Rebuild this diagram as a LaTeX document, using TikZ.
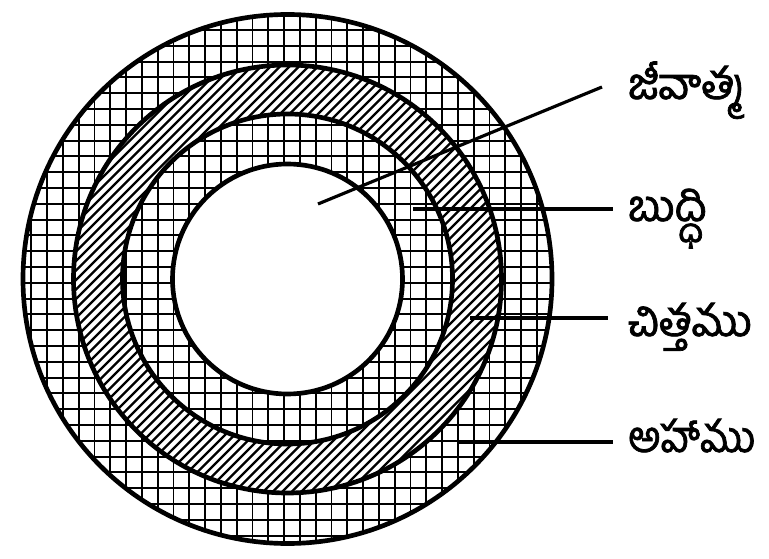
\documentclass[tikz,border=0pt]{standalone}
\usepackage{graphicx}
\usepackage{fontspec}
\newfontfamily\telugu[Script=Telugu,FakeBold=1.6]{Hind Guntur}
\tikzset{
  rim/.style={line width=0.14cm},
  gridline/.style={line width=0.055cm},
  hatchline/.style={line width=0.065cm},
  pointer/.style={line width=0.095cm},
  lbl/.style={anchor=base west,inner sep=0pt,font=\telugu\fontsize{37}{44}\selectfont}
}
\newcommand{\meshlines}{%
  \foreach \i in {0,...,35} \draw[gridline] ({15.5+15.8*\i},0) -- ++(0,558);
  \foreach \i in {0,...,34} \draw[gridline] (0,{6.6+15.8*\i}) -- ++(769,0);}
\begin{document}
\begin{tikzpicture}[x=0.03cm,y=0.03cm]
\useasboundingbox (0,0) rectangle (769,558);
\coordinate (c) at (287.5,279);
\begin{scope}
\clip (c) circle (264.5);
\meshlines
\end{scope}
\fill[white] (c) circle (214);
\begin{scope}
\clip (c) circle (214);
\foreach \i in {0,...,92} \draw[hatchline] ({-430+9.5*\i},0) -- ++(558,558);
\end{scope}
\fill[white] (c) circle (165);
\begin{scope}
\clip (c) circle (165);
\meshlines
\end{scope}
\fill[white] (c) circle (115);
\draw[rim] (c) circle (264.5);
\draw[rim] (c) circle (214);
\draw[rim] (c) circle (165);
\draw[rim] (c) circle (115);
\node[lbl] (jiva) at (628,459) {జీవాత్మ};
\node[lbl] (buddhi) at (628,337) {బుద్ధి};
\node[lbl] (chitta) at (628,222) {చిత్తము};
\node[lbl] (aham) at (628,106) {\resizebox{3.81cm}{\height}{అహాము}};
\coordinate (jivain) at (318,354);
\coordinate (jivaout) at (602,471);
\coordinate (buddhiin) at (413,349);
\coordinate (buddhiout) at (613,349);
\coordinate (chittain) at (470,240);
\coordinate (chittaout) at (608,240);
\coordinate (ahamin) at (458,116);
\coordinate (ahamout) at (613,116);
\draw[pointer] (jivain) -- (jivaout);
\draw[pointer] (buddhiin) -- (buddhiout);
\draw[pointer] (chittain) -- (chittaout);
\draw[pointer] (ahamin) -- (ahamout);
\end{tikzpicture}
\end{document}
